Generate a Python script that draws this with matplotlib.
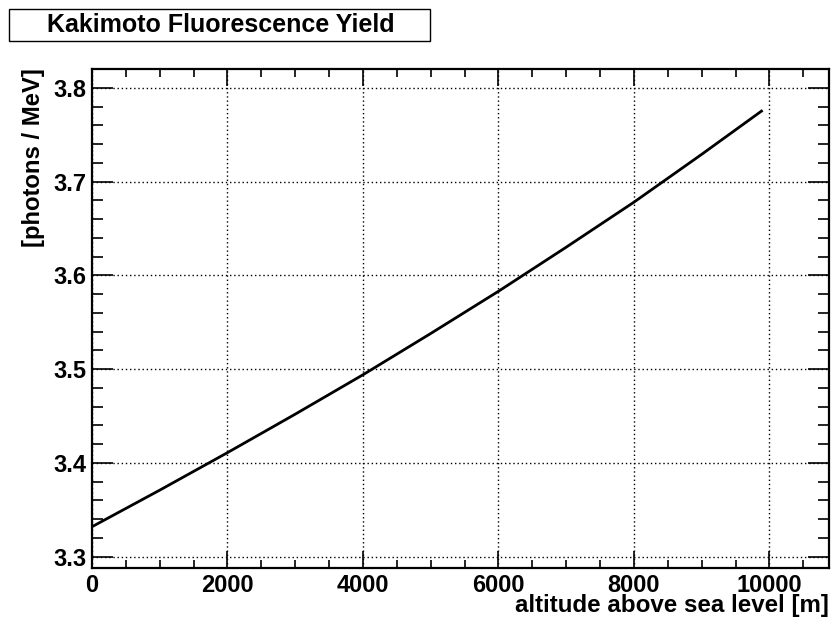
#!/usr/bin/env python
"""Fluorescence yield (Kakimoto parametrisation) versus altitude, ROOT-like style."""
import matplotlib
matplotlib.use("Agg")
import matplotlib.pyplot as plt
from matplotlib.patches import Rectangle
from matplotlib.ticker import MultipleLocator, FormatStrFormatter

plt.rcParams["font.family"] = ["Liberation Sans", "DejaVu Sans"]
plt.rcParams["font.weight"] = "bold"

# altitude above sea level [m] and yield [photons / MeV]
altitude = [0, 1000, 2000, 3000, 4000, 5000, 6000, 7000, 8000, 9000, 9900]
fl_yield = [3.332, 3.371, 3.411, 3.452, 3.494, 3.538, 3.583, 3.630, 3.678, 3.729, 3.776]

title = "Kakimoto Fluorescence Yield"
xlabel = "altitude above sea level [m]"
ylabel = "[photons / MeV]"

W, H = 831, 621
fig = plt.figure(figsize=(W / 100, H / 100), dpi=100)
ax = fig.add_axes([92 / W, 1 - 568 / H, (829 - 92) / W, (568 - 69) / H])

ax.plot(altitude, fl_yield, color="black", lw=2.0, solid_capstyle="butt",
        solid_joinstyle="round")
ax.set_xlim(0, 10880)
ax.set_ylim(3.288, 3.820)

ax.xaxis.set_major_locator(MultipleLocator(2000))
ax.xaxis.set_minor_locator(MultipleLocator(500))
ax.yaxis.set_major_locator(MultipleLocator(0.1))
ax.yaxis.set_minor_locator(MultipleLocator(0.02))
ax.yaxis.set_major_formatter(FormatStrFormatter("%.1f"))

ax.tick_params(axis="both", which="both", direction="in", top=True, right=True,
               color="black", width=1.2, labelsize=17)
ax.tick_params(axis="x", which="major", length=12, pad=4)
ax.tick_params(axis="x", which="minor", length=6)
ax.tick_params(axis="y", which="major", length=15, pad=4)
ax.tick_params(axis="y", which="minor", length=8)
for lab in ax.get_xticklabels() + ax.get_yticklabels():
    lab.set_fontweight("bold")

ax.grid(True, which="major", color="black", ls=(0, (1, 2)), lw=1.0)
for sp in ax.spines.values():
    sp.set_linewidth(1.6)

fig.text(829 / W, 1 - 612 / H, xlabel, ha="right", va="baseline",
         fontsize=17.4, fontweight="bold")
fig.text(34 / W, 1 - 68 / H, ylabel, ha="center", va="top", rotation=90,
         fontsize=17.2, fontweight="bold")

# title box in the top-left corner
fig.patches.append(Rectangle((9 / W, 1 - 41 / H), 421 / W, 32 / H,
                             transform=fig.transFigure, fill=False,
                             edgecolor="black", lw=1.0))
fig.text(221 / W, 1 - 25 / H, title, ha="center", va="center",
         fontsize=18, fontweight="bold")

fig.savefig("out.png", dpi=100)
